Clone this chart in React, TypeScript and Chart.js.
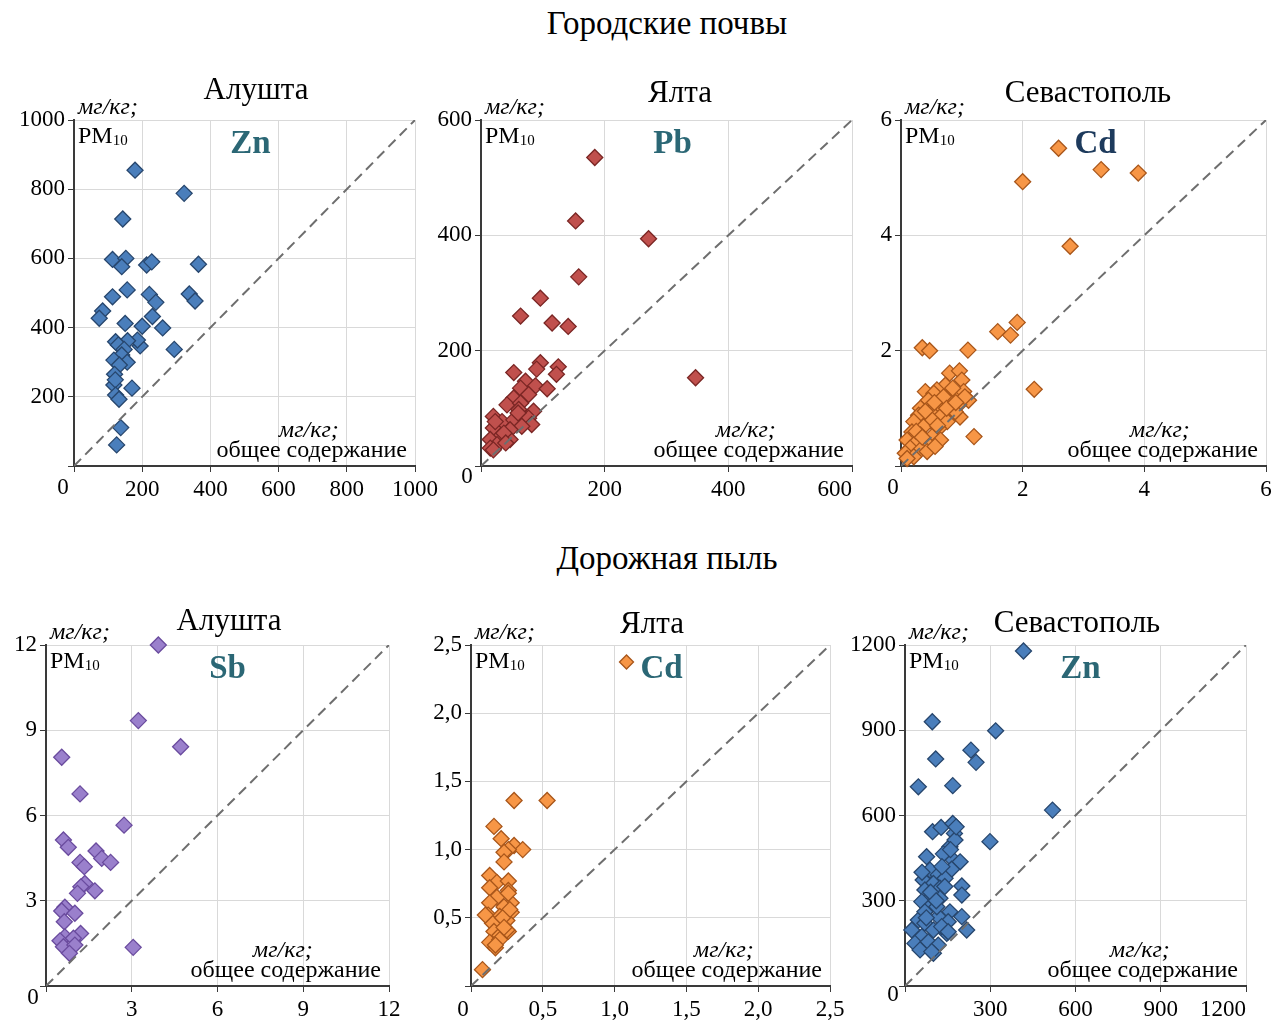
import React, { useEffect, useRef } from 'react';
import { Chart, registerables } from 'chart.js';
Chart.register(...registerables);

// ---------- DATA ----------
// Urban soils, Alushta, Zn (total content, PM10), mg/kg
const soilAlushtaZn: number[][] = [
  [179, 855], [323, 788], [143, 714], [113, 597], [152, 600], [140, 576], [213, 581], [228, 590],
  [365, 583], [156, 509], [113, 489], [221, 496], [240, 473], [338, 497], [355, 477], [84, 448],
  [74, 427], [150, 412], [230, 432], [200, 404], [260, 399], [294, 337], [194, 347], [186, 364],
  [157, 362], [122, 359], [130, 350], [147, 337], [140, 321], [117, 306], [156, 300], [133, 292],
  [119, 265], [117, 234], [121, 249], [170, 225], [122, 205], [132, 193], [137, 111], [125, 61],
];
// Urban soils, Yalta, Pb
const soilYaltaPb: number[][] = [
  [184, 535], [153, 425], [271, 394], [158, 328], [96, 291], [64, 260], [115, 248], [141, 242],
  [347, 153], [96, 179], [90, 168], [125, 172], [122, 159], [53, 162], [72, 147], [88, 139],
  [107, 134], [64, 135], [77, 124], [53, 118], [42, 106], [64, 109], [85, 95], [61, 98],
  [20, 86], [34, 77], [53, 80], [77, 83], [82, 72], [66, 69], [47, 63], [20, 66],
  [31, 51], [47, 46], [15, 46], [26, 37], [15, 31], [37, 57], [60, 92], [23, 77], [20, 28], [40, 40],
];
// Urban soils, Sevastopol, Cd
const soilSevastopolCd: number[][] = [
  [2.59, 5.51], [3.29, 5.14], [3.9, 5.08], [2.0, 4.93], [2.78, 3.81], [1.91, 2.49], [1.59, 2.33],
  [1.8, 2.27], [0.35, 2.05], [0.47, 2.0], [1.1, 2.01], [2.19, 1.33], [1.2, 0.51],
  [0.8, 1.61], [0.96, 1.65], [1.0, 1.49], [0.73, 1.4], [0.59, 1.32], [0.4, 1.29], [0.54, 1.26],
  [0.89, 1.26], [1.03, 1.29], [0.76, 1.17], [0.45, 1.14], [1.11, 1.14], [0.62, 1.06], [0.95, 1.06],
  [0.32, 1.0], [0.81, 0.97], [0.48, 0.94], [0.29, 0.88], [0.67, 0.88], [0.97, 0.85], [0.21, 0.77],
  [0.51, 0.8], [0.76, 0.77], [0.37, 0.68], [0.62, 0.65], [0.18, 0.59], [0.32, 0.54], [0.51, 0.51],
  [0.1, 0.45], [0.26, 0.42], [0.43, 0.39], [0.65, 0.45], [0.15, 0.31], [0.32, 0.28], [0.07, 0.22],
  [0.21, 0.16], [0.1, 0.13], [0.43, 0.25], [0.56, 0.34], [0.89, 0.94],
  [0.85, 1.35], [0.7, 1.2], [0.55, 1.1], [0.4, 0.95], [0.25, 0.6], [0.35, 0.5], [0.6, 0.7],
  [0.75, 1.0], [1.05, 1.2], [0.9, 1.1],
];
// Road dust, Alushta, Sb
const dustAlushtaSb: number[][] = [
  [3.93, 12.0], [3.23, 9.34], [4.71, 8.42], [0.55, 8.05], [1.19, 6.76], [2.73, 5.66], [0.61, 5.14],
  [0.78, 4.88], [1.75, 4.75], [1.95, 4.49], [2.26, 4.35], [1.19, 4.35], [1.34, 4.2], [1.36, 3.61],
  [1.22, 3.49], [1.1, 3.26], [1.71, 3.35], [0.66, 2.77], [0.55, 2.64], [1.01, 2.56], [0.64, 2.26],
  [1.21, 1.85], [0.66, 1.73], [0.49, 1.59], [0.96, 1.68], [0.61, 1.38], [1.01, 1.44], [0.82, 1.15],
  [3.05, 1.36],
];
// Road dust, Yalta, Cd
const dustYaltaCd: number[][] = [
  [0.3, 1.36], [0.53, 1.36], [0.16, 1.17], [0.21, 1.08], [0.3, 1.03], [0.36, 1.0], [0.26, 1.0],
  [0.23, 0.98], [0.23, 0.91], [0.13, 0.81], [0.18, 0.76], [0.26, 0.77], [0.13, 0.72], [0.26, 0.7],
  [0.18, 0.65], [0.13, 0.61], [0.28, 0.61], [0.23, 0.58], [0.12, 0.52], [0.2, 0.51], [0.28, 0.54],
  [0.25, 0.48], [0.15, 0.46], [0.16, 0.4], [0.26, 0.4], [0.2, 0.37], [0.13, 0.32], [0.17, 0.28],
  [0.2, 0.34], [0.08, 0.12], [0.26, 0.68], [0.27, 0.56], [0.22, 0.5], [0.1, 0.52], [0.25, 0.41],
  [0.17, 0.3], [0.23, 0.43],
];
// Road dust, Sevastopol, Zn
const dustSevastopolZn: number[][] = [
  [417, 1179], [96, 930], [319, 898], [232, 830], [250, 787], [108, 799], [47, 701], [168, 705],
  [519, 619], [299, 508], [97, 543], [127, 558], [168, 572], [174, 537], [158, 490], [176, 514],
  [76, 455], [135, 465], [170, 443], [194, 437], [164, 411], [88, 408], [117, 391], [141, 379],
  [200, 352], [200, 320], [64, 373], [100, 361], [70, 338], [123, 344], [94, 314], [59, 297],
  [123, 309], [82, 273], [158, 261], [200, 244], [117, 244], [47, 232], [70, 221], [152, 226],
  [217, 197], [24, 197], [100, 197], [59, 174], [147, 185], [35, 150], [82, 156], [117, 144],
  [53, 127], [100, 115], [129, 209], [112, 279], [70, 261], [152, 191], [94, 121],
  [60, 400], [90, 330], [110, 300], [130, 420], [75, 240], [140, 350], [160, 480], [180, 560],
];

const sectionTitles = ['Городские почвы', 'Дорожная пыль'];
const cityTitles = ['Алушта', 'Ялта', 'Севастополь', 'Алушта', 'Ялта', 'Севастополь'];
const elements = ['Zn', 'Pb', 'Cd', 'Sb', 'Cd', 'Zn'];
const axisMax = [1000, 600, 6, 12, 2.5, 1200];
const axisStep = [200, 200, 2, 3, 0.5, 300];

// ---------- STYLE / LAYOUT ----------
const FONT = '"Liberation Serif", "Times New Roman", serif';
const YW = 64, PT = 50, PR = 30, XH = 44;

const BLUE = { fill: '#4a7ebb', border: '#27466d' };
const RED = { fill: '#c0504d', border: '#7a2624' };
const ORANGE = { fill: '#f79646', border: '#a8561a' };
const PURPLE = { fill: '#9a80cc', border: '#6a4b9e' };

const panels = [
  { data: soilAlushtaZn, color: BLUE, L: 74, T: 120, W: 341, H: 346, tx: 256, ty: 88, elemColor: '#2b6775', elemDx: 6, zx: -11, zy: 22, inner: false, comma: false, marker: false },
  { data: soilYaltaPb, color: RED, L: 481, T: 120, W: 371, H: 346, tx: 680, ty: 91, elemColor: '#2b6775', elemDx: 6, zx: -14, zy: 11, inner: true, comma: false, marker: false },
  { data: soilSevastopolCd, color: ORANGE, L: 901, T: 120, W: 365, H: 346, tx: 1088, ty: 91, elemColor: '#1d3a5c', elemDx: 12, zx: -8, zy: 22, inner: false, comma: false, marker: false },
  { data: dustAlushtaSb, color: PURPLE, L: 46, T: 645, W: 343, H: 341, tx: 229, ty: 619, elemColor: '#2b6775', elemDx: 10, zx: -13, zy: 12, inner: false, comma: false, marker: false },
  { data: dustYaltaCd, color: ORANGE, L: 471, T: 645, W: 359, H: 341, tx: 652, ty: 622, elemColor: '#2b6775', elemDx: 11, zx: -8, zy: 24, inner: false, comma: true, marker: true },
  { data: dustSevastopolZn, color: BLUE, L: 905, T: 645, W: 341, H: 341, tx: 1077, ty: 621, elemColor: '#2b6775', elemDx: 5, zx: -12, zy: 9, inner: true, comma: false, marker: false },
];

function fmt(v: number, comma: boolean) {
  if (comma) return v.toFixed(1).replace('.', ',');
  return String(Math.round(v * 1000) / 1000);
}

function Panel({ idx }: { idx: number }) {
  const ref = useRef<HTMLCanvasElement | null>(null);
  const p = panels[idx];
  const cw = p.W + YW + PR;
  const ch = p.H + PT + XH;
  useEffect(() => {
    if (!ref.current) return;
    const max = axisMax[idx];
    const step = axisStep[idx];
    const annot = {
      id: 'annot' + idx,
      afterDraw(chart: any) {
        const { ctx, chartArea: a } = chart;
        ctx.save();
        ctx.fillStyle = '#000';
        ctx.textBaseline = 'middle';
        ctx.textAlign = 'left';
        ctx.font = 'italic 24px ' + FONT;
        ctx.fillText('мг/кг;', a.left + 4, a.top - 12);
        ctx.font = '24px ' + FONT;
        ctx.fillText('PM', a.left + 4, a.top + 17);
        const pmW = ctx.measureText('PM').width;
        ctx.font = '15px ' + FONT;
        ctx.fillText('10', a.left + 4 + pmW, a.top + 21);
        ctx.font = '24px ' + FONT;
        ctx.textAlign = 'right';
        const line2 = 'общее содержание';
        const w2 = ctx.measureText(line2).width;
        ctx.fillText(line2, a.right - 8, a.bottom - 15);
        ctx.font = 'italic 24px ' + FONT;
        ctx.textAlign = 'center';
        ctx.fillText('мг/кг;', a.right - 8 - w2 / 2 - 3, a.bottom - 35);
        const ex = (a.left + a.right) / 2 + p.elemDx;
        ctx.font = 'bold 33px ' + FONT;
        ctx.fillStyle = p.elemColor;
        ctx.fillText(elements[idx], ex, a.top + 24);
        if (p.marker) {
          const mx = ex - 35, my = a.top + 17, r = 7;
          ctx.beginPath();
          ctx.moveTo(mx - r, my); ctx.lineTo(mx, my - r); ctx.lineTo(mx + r, my); ctx.lineTo(mx, my + r);
          ctx.closePath();
          ctx.fillStyle = p.color.fill; ctx.fill();
          ctx.strokeStyle = p.color.border; ctx.lineWidth = 1.3; ctx.stroke();
        }
        ctx.fillStyle = '#000';
        ctx.font = '23px ' + FONT;
        ctx.textAlign = 'center';
        ctx.fillText('0', a.left + p.zx, a.bottom + p.zy);
        ctx.restore();
      },
    };
    const tickCb = (v: any) => (Math.abs(Number(v)) < 1e-9 ? '' : fmt(Number(v), p.comma));
    const chart = new Chart(ref.current, {
      type: 'scatter',
      data: {
        datasets: [
          {
            type: 'line',
            data: [{ x: 0, y: 0 }, { x: max, y: max }],
            borderColor: '#6e6e6e',
            borderWidth: 2,
            borderDash: [10, 6],
            pointRadius: 0,
            fill: false,
          } as any,
          {
            data: p.data.map(([x, y]) => ({ x, y })),
            pointStyle: 'rectRot',
            pointRadius: 8,
            pointHoverRadius: 8,
            backgroundColor: p.color.fill,
            borderColor: p.color.border,
            borderWidth: 1.3,
            clip: false,
          } as any,
        ],
      },
      options: {
        animation: false,
        responsive: false,
        devicePixelRatio: 1,
        layout: { padding: { top: PT, right: PR, left: 0, bottom: 0 } },
        plugins: { legend: { display: false }, tooltip: { enabled: false } },
        scales: {
          x: {
            type: 'linear',
            min: 0,
            max,
            afterFit: (s: any) => { s.height = XH; },
            ticks: {
              stepSize: step,
              color: '#000',
              font: { family: FONT, size: 23 },
              padding: 4,
              maxRotation: 0,
              autoSkip: false,
              align: p.inner ? 'inner' : 'center',
              callback: tickCb,
            },
            grid: { color: '#d9d9d9', lineWidth: 1, tickColor: '#3a3a3a', tickLength: 6, drawTicks: true },
            border: { color: '#3a3a3a', width: 2 },
          },
          y: {
            type: 'linear',
            min: 0,
            max,
            afterFit: (s: any) => { s.width = YW; },
            ticks: {
              stepSize: step,
              color: '#000',
              font: { family: FONT, size: 23 },
              padding: 3,
              autoSkip: false,
              callback: tickCb,
            },
            grid: { color: '#d9d9d9', lineWidth: 1, tickColor: '#3a3a3a', tickLength: 6, drawTicks: true },
            border: { color: '#3a3a3a', width: 2 },
          },
        },
      } as any,
      plugins: [annot],
    });
    return () => chart.destroy();
  }, [idx]);
  return (
    <canvas
      ref={ref}
      width={cw}
      height={ch}
      style={{ position: 'absolute', left: p.L - YW, top: p.T - PT, width: cw, height: ch }}
    />
  );
}

const textStyle = (x: number, y: number, size: number): React.CSSProperties => ({
  position: 'absolute',
  left: x,
  top: y,
  transform: 'translate(-50%, -50%)',
  fontFamily: FONT,
  fontSize: size,
  lineHeight: 1,
  whiteSpace: 'nowrap',
  color: '#000',
});

export default function App() {
  return (
    <div style={{ position: 'absolute', left: 0, top: 0, width: 1274, height: 1020, overflow: 'hidden', background: '#fff' }}>
      {panels.map((_, i) => <Panel key={i} idx={i} />)}
      <div style={textStyle(667, 23, 33)}>{sectionTitles[0]}</div>
      <div style={textStyle(667, 558, 33)}>{sectionTitles[1]}</div>
      {panels.map((p, i) => (
        <div key={'t' + i} style={textStyle(p.tx, p.ty, 31)}>{cityTitles[i]}</div>
      ))}
    </div>
  );
}
